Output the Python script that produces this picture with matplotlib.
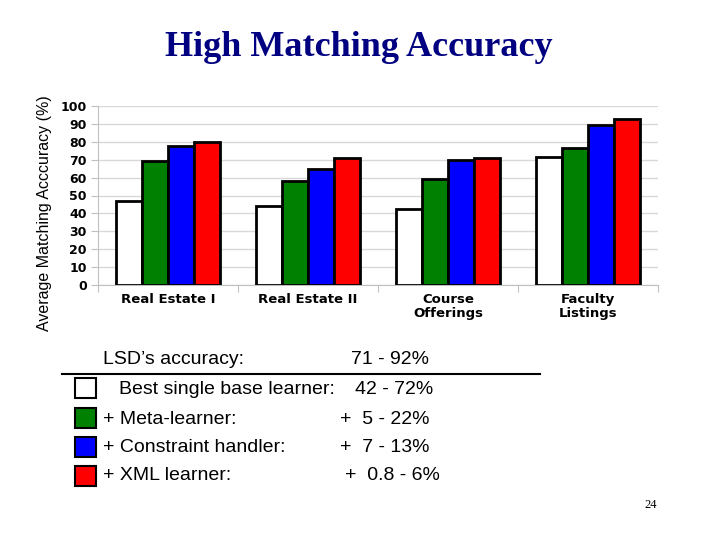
import matplotlib
matplotlib.use("Agg")
import matplotlib.pyplot as plt
import numpy as np
from matplotlib.patches import Rectangle
from matplotlib.lines import Line2D

categories = ["Real Estate I", "Real Estate II", "Course\nOfferings", "Faculty\nListings"]
best_single = [47, 44, 42.5, 71.5]
meta_learner = [69, 58, 59, 76.5]
constraint_handler = [77.5, 65, 70, 89.5]
xml_learner = [80, 71, 71, 92.5]
series = [best_single, meta_learner, constraint_handler, xml_learner]
colors = ["white", "#008000", "#0000ff", "#ff0000"]
yticks = list(range(0, 101, 10))

legend_labels = ["Best single base learner:", "+ Meta-learner:", "+ Constraint handler:", "+ XML learner:"]
legend_values = ["42 - 72%", "+  5 - 22%", "+  7 - 13%", "+  0.8 - 6%"]

fig = plt.figure(figsize=(7.2, 5.4), dpi=100)
W, H = 720, 540
ax = fig.add_axes([98 / W, 1 - 285 / H, (658 - 98) / W, (285 - 106) / H])

x = np.arange(len(categories))
bw = 0.185
for i, (vals, c) in enumerate(zip(series, colors)):
    ax.bar(x + (i - 1.5) * bw, vals, width=bw, color=c, edgecolor="black", linewidth=2, zorder=3)

ax.set_xlim(-0.5, 3.5)
ax.set_ylim(0, 100)
ax.set_yticks(yticks)
ax.set_yticklabels([str(v) for v in yticks], fontfamily="DejaVu Sans", fontweight="bold", fontsize=9)
ax.yaxis.grid(True, color="#d8d8d8", linewidth=1, zorder=0)
ax.set_axisbelow(True)
for s in ["top", "right"]:
    ax.spines[s].set_visible(False)
for s in ["left", "bottom"]:
    ax.spines[s].set_color("#c0c0c0")
ax.tick_params(axis="y", color="#c0c0c0", length=5, pad=3)
ax.set_xticks(np.arange(-0.5, 4, 1), minor=False)
ax.set_xticklabels([])
ax.tick_params(axis="x", color="#c0c0c0", length=5)
ax.set_xticks(x, minor=True)
ax.set_xticklabels(categories, minor=True, fontfamily="DejaVu Sans", fontweight="bold", fontsize=9.5,
                   linespacing=1.1)
ax.tick_params(axis="x", which="minor", length=0, pad=6)

fig.text(45 / W, 1 - 213 / H, "Average Matching Acccuracy (%)", rotation=90, ha="center", va="center",
         fontfamily="Liberation Sans", fontsize=11.5)

fig.text(359 / W, 1 - 48 / H, "High Matching Accuracy", ha="center", va="center",
         fontfamily="Liberation Serif", fontweight="bold", fontsize=26, color="#000080")

# Legend / summary text
tf = dict(fontfamily="Liberation Sans", fontsize=14, color="black", va="center")
fig.text(103 / W, 1 - 360 / H, "LSD\u2019s accuracy:", **tf)
fig.text(351 / W, 1 - 360 / H, "71 - 92%", **tf)
fig.add_artist(Line2D([62 / W, 540 / W], [1 - 374 / H, 1 - 374 / H], color="black", linewidth=1.5))

rows_y = [389, 419, 447, 476]
box_tops = [378, 408, 437, 466]
val_x = [355, 340, 340, 345]
for j, (lab, val, c, yy, bt, vx) in enumerate(zip(legend_labels, legend_values, colors, rows_y, box_tops, val_x)):
    fig.add_artist(Rectangle((75 / W, 1 - (bt + 20) / H), 21 / W, 20 / H, facecolor=c,
                             edgecolor="black", linewidth=1.5, transform=fig.transFigure))
    lx = 119 if j == 0 else 103
    fig.text(lx / W, 1 - yy / H, lab, **tf)
    fig.text(vx / W, 1 - yy / H, val, **tf)

fig.text(651 / W, 1 - 505 / H, "24", ha="center", va="center", fontfamily="Liberation Serif", fontsize=9)

fig.savefig("out.png", dpi=100)
